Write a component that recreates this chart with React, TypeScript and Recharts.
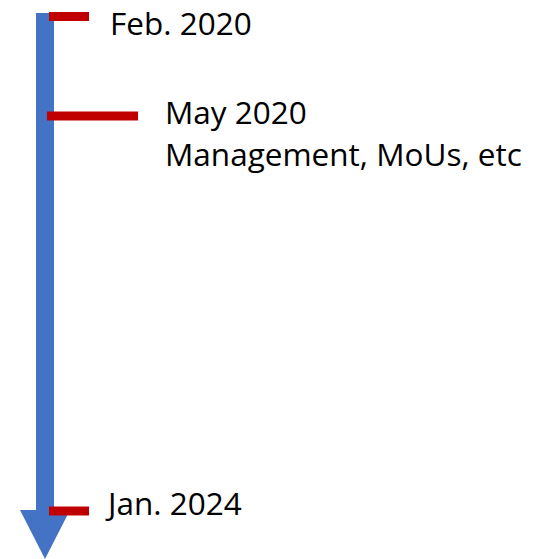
import { ComposedChart, ReferenceArea, Scatter, XAxis, YAxis } from "recharts";

// timeline positions (page units, y grows downward)
const eventNames = ["Feb. 2020", "May 2020", "Jan. 2024"];
const eventNotes = ["", "Management, MoUs, etc", ""];
const eventPos = [16.5, 116, 511];
const markStart = [49, 47, 49];
const markEnd = [89, 138, 89];
const labelX = [110, 165, 108];
const labelY = [35, 124, 515];

const shaft = { x1: 36, x2: 54, y1: 13, y2: 511 };
const head = { x1: 20, x2: 70, y1: 510, y2: 559 };

const events = eventNames.map((name, i) => ({
  name,
  note: eventNotes[i],
  pos: eventPos[i],
  x: labelX[i],
  y: labelY[i],
}));

const FONT = "'Open Sans', Lato, sans-serif";

function ArrowHead(props: any) {
  const { x, y, width, height } = props;
  return (
    <polygon
      points={`${x},${y} ${x + width},${y} ${x + width / 2},${y + height}`}
      fill="#4472C4"
    />
  );
}

function EventLabel(props: any) {
  const { cx, cy, payload } = props;
  return (
    <text x={cx} y={cy} fill="#000" fontSize={31.5} fontFamily={FONT}>
      <tspan x={cx}>{payload.name}</tspan>
      {payload.note ? (
        <tspan x={cx} dy={42}>
          {payload.note}
        </tspan>
      ) : null}
    </text>
  );
}

export default function App() {
  return (
    <div style={{ position: "absolute", left: 0, top: 0, background: "#fff" }}>
      <ComposedChart
        width={533}
        height={559}
        data={events}
        margin={{ top: 0, right: 0, bottom: 0, left: 0 }}
      >
        <XAxis type="number" dataKey="x" domain={[0, 533]} hide />
        <YAxis type="number" dataKey="y" domain={[0, 559]} reversed hide />
        <ReferenceArea
          x1={shaft.x1}
          x2={shaft.x2}
          y1={shaft.y1}
          y2={shaft.y2}
          fill="#4472C4"
          fillOpacity={1}
          stroke="none"
        />
        <ReferenceArea
          x1={head.x1}
          x2={head.x2}
          y1={head.y1}
          y2={head.y2}
          shape={<ArrowHead />}
        />
        {events.map((e, i) => (
          <ReferenceArea
            key={e.name}
            x1={markStart[i]}
            x2={markEnd[i]}
            y1={e.pos - 4.5}
            y2={e.pos + 4.5}
            fill="#C00000"
            fillOpacity={1}
            stroke="none"
          />
        ))}
        <Scatter
          dataKey="y"
          isAnimationActive={false}
          shape={<EventLabel />}
        />
      </ComposedChart>
    </div>
  );
}
